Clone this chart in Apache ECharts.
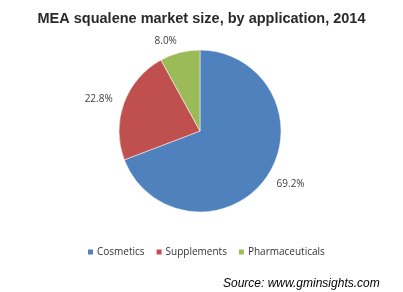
<!DOCTYPE html>
<html><head><meta charset="utf-8">
<script src="https://cdn.jsdelivr.net/npm/echarts@6/dist/echarts.min.js"></script>
<style>html,body{margin:0;padding:0;background:#fff}#c{width:403px;height:292px}</style>
</head><body><div id="c"></div>
<script>
var categories = ['Cosmetics', 'Supplements', 'Pharmaceuticals'];
var values = [69.2, 22.8, 8.0];
var colors = ['#4F81BD', '#C0504D', '#9BBB59'];

var chart = echarts.init(document.getElementById('c'), null, {renderer: 'canvas'});
chart.setOption({
  animation: false,
  backgroundColor: '#fff',
  title: [{
    text: 'MEA squalene market size, by application, 2014',
    left: 'center', top: 6,
    textStyle: {fontFamily: 'Liberation Sans', fontWeight: 'bold', fontSize: 14.5, color: '#2a2a2a'}
  }, {
    text: 'Source: www.gminsights.com',
    left: 218, top: 273,
    textStyle: {fontFamily: 'Liberation Sans', fontStyle: 'italic', fontWeight: 'normal', fontSize: 12, color: '#000'}
  }],
  legend: {
    data: categories,
    left: 81, top: 242,
    icon: 'rect', itemWidth: 7, itemHeight: 7, itemGap: 10,
    textStyle: {fontFamily: 'Open Sans', fontSize: 10, color: '#333', padding: [0,0,0,-2]}
  },
  series: [{
    type: 'pie',
    center: [200, 131],
    radius: 81,
    startAngle: 90,
    clockwise: true,
    data: categories.map(function (c, i) { return {name: c, value: values[i], itemStyle: {color: colors[i]}}; }),
    itemStyle: {borderColor: '#fff', borderWidth: 0.5},
    label: {
      show: true, position: 'outside',
      formatter: function (p) { return p.value.toFixed(1) + '%'; },
      fontFamily: 'Open Sans', fontSize: 10, color: '#404040', distanceToLabelLine: 0
    },
    labelLine: {show: false, length: 12, length2: 0},
    emphasis: {disabled: true}
  }]
});
</script></body></html>
